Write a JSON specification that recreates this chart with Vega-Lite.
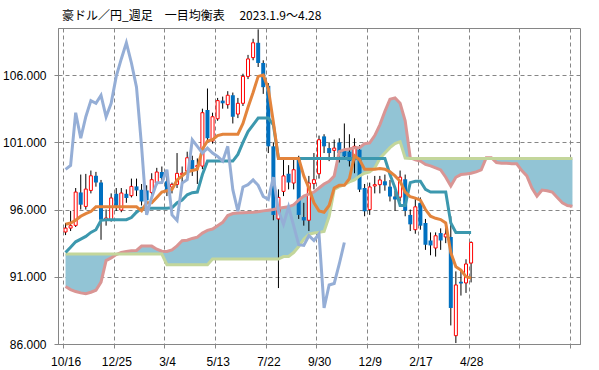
{
  "$schema": "https://vega.github.io/schema/vega-lite/v6.json",
  "width": 522,
  "height": 316,
  "autosize": {"type": "none"},
  "padding": {"left": 58, "top": 28, "right": 19, "bottom": 26},
  "background": "#ffffff",
  "title": {
    "text": "豪ドル／円_週足　一目均衡表　 2023.1.9～4.28",
    "anchor": "start",
    "frame": "group",
    "offset": 5,
    "dx": 4,
    "font": "Noto Sans CJK JP",
    "fontSize": 12,
    "fontWeight": "normal",
    "color": "#000000"
  },
  "config": {
    "view": {"stroke": "#868686", "strokeWidth": 1},
    "axis": {
      "labelFont": "Liberation Sans",
      "labelFontSize": 12,
      "labelColor": "#000000",
      "domainColor": "#868686",
      "tickColor": "#868686",
      "tickSize": 4,
      "gridColor": "#868686",
      "gridDash": [4, 3],
      "gridWidth": 1,
      "title": null
    }
  },
  "datasets": {
    "c": [
      {"i":0,"o":94.33,"h":95.0,"l":94.1,"c":94.62,"tk":94.9,"kj":92.8},
      {"i":1,"o":94.62,"h":95.9,"l":94.4,"c":94.8,"tk":95.0,"kj":93.2},
      {"i":2,"o":94.82,"h":97.6,"l":94.7,"c":97.3,"tk":95.2,"kj":93.6},
      {"i":3,"o":97.27,"h":98.6,"l":96.0,"c":96.36,"tk":95.5,"kj":93.8},
      {"i":4,"o":96.23,"h":98.65,"l":96.0,"c":97.52,"tk":95.7,"kj":94.0},
      {"i":5,"o":97.42,"h":98.9,"l":97.2,"c":98.51,"tk":95.85,"kj":94.3},
      {"i":6,"o":98.51,"h":98.8,"l":97.7,"c":98.01,"tk":96.2,"kj":94.5},
      {"i":7,"o":98.01,"h":98.2,"l":93.75,"c":95.24,"tk":96.2,"kj":95.2},
      {"i":8,"o":95.24,"h":96.0,"l":94.8,"c":95.37,"tk":96.2,"kj":95.24},
      {"i":9,"o":95.24,"h":97.2,"l":95.1,"c":96.86,"tk":96.2,"kj":95.24},
      {"i":10,"o":97.17,"h":97.6,"l":95.9,"c":96.28,"tk":96.2,"kj":95.24},
      {"i":11,"o":95.96,"h":97.6,"l":95.8,"c":97.23,"tk":96.2,"kj":95.24},
      {"i":12,"o":97.17,"h":97.5,"l":96.5,"c":96.86,"tk":96.2,"kj":95.24},
      {"i":13,"o":97.03,"h":98.3,"l":96.9,"c":97.72,"tk":96.2,"kj":95.4},
      {"i":14,"o":97.72,"h":98.3,"l":97.0,"c":97.42,"tk":96.2,"kj":95.8},
      {"i":15,"o":97.47,"h":97.9,"l":96.3,"c":96.6,"tk":95.9,"kj":96.1},
      {"i":16,"o":97.42,"h":97.8,"l":96.3,"c":96.68,"tk":96.5,"kj":96.1},
      {"i":17,"o":97.27,"h":98.7,"l":96.9,"c":98.22,"tk":96.5,"kj":96.1},
      {"i":18,"o":97.97,"h":99.1,"l":97.8,"c":98.79,"tk":96.9,"kj":96.1},
      {"i":19,"o":98.79,"h":99.2,"l":98.0,"c":98.34,"tk":97.3,"kj":96.1},
      {"i":20,"o":98.1,"h":98.5,"l":97.0,"c":97.4,"tk":97.4,"kj":96.1},
      {"i":21,"o":97.67,"h":98.0,"l":97.2,"c":97.87,"tk":97.5,"kj":96.13},
      {"i":22,"o":97.87,"h":100.2,"l":97.6,"c":98.69,"tk":98.2,"kj":96.5},
      {"i":23,"o":98.6,"h":99.2,"l":98.0,"c":98.7,"tk":98.5,"kj":96.7},
      {"i":24,"o":98.86,"h":100.3,"l":98.6,"c":99.85,"tk":98.8,"kj":97.1},
      {"i":25,"o":99.68,"h":100.0,"l":98.5,"c":98.99,"tk":98.9,"kj":97.25},
      {"i":26,"o":99.16,"h":99.8,"l":97.9,"c":99.28,"tk":99.0,"kj":97.3},
      {"i":27,"o":99.23,"h":103.5,"l":99.0,"c":103.2,"tk":100.5,"kj":98.6},
      {"i":28,"o":103.4,"h":105.0,"l":101.0,"c":101.3,"tk":101.1,"kj":99.6},
      {"i":29,"o":101.1,"h":103.2,"l":100.9,"c":102.9,"tk":101.2,"kj":99.6},
      {"i":30,"o":102.75,"h":104.3,"l":102.6,"c":104.1,"tk":101.5,"kj":99.6},
      {"i":31,"o":104.1,"h":104.4,"l":103.5,"c":103.9,"tk":101.6,"kj":99.6},
      {"i":32,"o":103.8,"h":104.8,"l":103.5,"c":104.5,"tk":101.6,"kj":99.6},
      {"i":33,"o":104.5,"h":104.7,"l":102.4,"c":102.9,"tk":101.6,"kj":99.6},
      {"i":34,"o":103.1,"h":104.3,"l":102.8,"c":103.9,"tk":101.6,"kj":100.1},
      {"i":35,"o":103.9,"h":106.1,"l":103.7,"c":105.9,"tk":102.4,"kj":101.0},
      {"i":36,"o":105.9,"h":107.5,"l":105.7,"c":107.2,"tk":103.6,"kj":101.8},
      {"i":37,"o":107.3,"h":108.7,"l":107.1,"c":108.4,"tk":104.7,"kj":102.3},
      {"i":38,"o":108.4,"h":109.4,"l":106.6,"c":106.9,"tk":105.9,"kj":102.8},
      {"i":39,"o":106.9,"h":107.1,"l":104.6,"c":105.1,"tk":106.0,"kj":102.8},
      {"i":40,"o":105.2,"h":105.4,"l":100.2,"c":100.7,"tk":105.0,"kj":102.8},
      {"i":41,"o":100.7,"h":101.0,"l":95.2,"c":95.6,"tk":102.5,"kj":102.3},
      {"i":42,"o":95.3,"h":97.5,"l":90.16,"c":96.9,"tk":99.8,"kj":99.8},
      {"i":43,"o":97.35,"h":99.8,"l":97.0,"c":98.5,"tk":99.8,"kj":99.8},
      {"i":44,"o":98.66,"h":99.3,"l":97.5,"c":98.01,"tk":99.8,"kj":99.8},
      {"i":45,"o":97.97,"h":99.7,"l":97.5,"c":98.96,"tk":99.8,"kj":99.8},
      {"i":46,"o":99.7,"h":100.0,"l":95.3,"c":95.6,"tk":99.8,"kj":99.8},
      {"i":47,"o":95.44,"h":96.5,"l":94.8,"c":95.19,"tk":98.5,"kj":99.8},
      {"i":48,"o":95.2,"h":98.5,"l":94.4,"c":97.97,"tk":97.6,"kj":99.8},
      {"i":49,"o":97.93,"h":100.2,"l":97.5,"c":98.22,"tk":96.5,"kj":99.8},
      {"i":50,"o":98.66,"h":101.5,"l":98.3,"c":101.19,"tk":95.9,"kj":99.8},
      {"i":51,"o":101.44,"h":101.6,"l":100.2,"c":100.7,"tk":95.8,"kj":99.8},
      {"i":52,"o":100.57,"h":101.0,"l":99.6,"c":100.2,"tk":96.3,"kj":99.8},
      {"i":53,"o":100.4,"h":101.2,"l":99.7,"c":100.57,"tk":97.6,"kj":99.8},
      {"i":54,"o":100.99,"h":101.3,"l":99.5,"c":100.2,"tk":97.8,"kj":99.8},
      {"i":55,"o":100.45,"h":102.4,"l":99.9,"c":99.95,"tk":97.8,"kj":99.8},
      {"i":56,"o":100.3,"h":101.6,"l":99.2,"c":99.6,"tk":98.3,"kj":99.8},
      {"i":57,"o":99.7,"h":101.3,"l":98.7,"c":100.7,"tk":100.0,"kj":99.8},
      {"i":58,"o":100.45,"h":100.8,"l":97.3,"c":97.48,"tk":99.7,"kj":99.8},
      {"i":59,"o":97.6,"h":97.9,"l":95.5,"c":95.87,"tk":99.0,"kj":99.8},
      {"i":60,"o":96.0,"h":98.0,"l":95.6,"c":97.68,"tk":99.0,"kj":99.8},
      {"i":61,"o":97.75,"h":98.5,"l":97.2,"c":97.85,"tk":99.0,"kj":99.8},
      {"i":62,"o":97.85,"h":98.5,"l":97.2,"c":98.2,"tk":99.05,"kj":99.8},
      {"i":63,"o":98.1,"h":98.6,"l":97.4,"c":97.8,"tk":99.0,"kj":99.8},
      {"i":64,"o":97.7,"h":98.2,"l":96.6,"c":96.97,"tk":98.8,"kj":98.6},
      {"i":65,"o":96.97,"h":97.4,"l":95.9,"c":96.75,"tk":98.5,"kj":97.6},
      {"i":66,"o":96.92,"h":98.9,"l":96.6,"c":98.41,"tk":98.1,"kj":96.3},
      {"i":67,"o":98.25,"h":98.6,"l":95.5,"c":95.9,"tk":97.3,"kj":96.3},
      {"i":68,"o":95.6,"h":96.0,"l":94.4,"c":94.9,"tk":96.95,"kj":98.0},
      {"i":69,"o":94.5,"h":96.8,"l":94.2,"c":96.2,"tk":96.85,"kj":98.1},
      {"i":70,"o":96.5,"h":96.9,"l":94.5,"c":94.8,"tk":96.7,"kj":98.1},
      {"i":71,"o":95.0,"h":95.3,"l":93.0,"c":93.38,"tk":96.0,"kj":97.5},
      {"i":72,"o":93.7,"h":94.3,"l":92.6,"c":93.33,"tk":95.5,"kj":97.3},
      {"i":73,"o":93.14,"h":94.3,"l":92.5,"c":94.05,"tk":95.35,"kj":97.3},
      {"i":74,"o":94.25,"h":94.6,"l":93.0,"c":93.7,"tk":95.25,"kj":97.3},
      {"i":75,"o":93.96,"h":94.8,"l":93.5,"c":94.18,"tk":95.0,"kj":97.3},
      {"i":76,"o":93.96,"h":95.5,"l":87.38,"c":88.68,"tk":92.8,"kj":95.0},
      {"i":77,"o":86.62,"h":91.4,"l":86.07,"c":90.39,"tk":91.75,"kj":94.3},
      {"i":78,"o":90.63,"h":91.5,"l":89.6,"c":90.5,"tk":91.5,"kj":94.3},
      {"i":79,"o":90.54,"h":92.3,"l":89.8,"c":91.95,"tk":91.0,"kj":94.3},
      {"i":80,"o":92.02,"h":93.63,"l":90.58,"c":93.55,"tk":90.9,"kj":94.3}
    ],
    "ch": [
      {"i":0,"v":98.99},{"i":1,"v":99.28},{"i":2,"v":103.2},{"i":3,"v":101.3},{"i":4,"v":102.9},
      {"i":5,"v":104.1},{"i":6,"v":103.9},{"i":7,"v":104.5},{"i":8,"v":102.9},{"i":9,"v":103.9},
      {"i":10,"v":105.9},{"i":11,"v":107.2},{"i":12,"v":108.4},{"i":13,"v":106.9},{"i":14,"v":105.1},
      {"i":15,"v":100.7},{"i":16,"v":95.6},{"i":17,"v":96.9},{"i":18,"v":98.0},{"i":19,"v":98.01},
      {"i":20,"v":98.96},{"i":21,"v":95.6},{"i":22,"v":95.19},{"i":23,"v":97.97},{"i":24,"v":98.22},
      {"i":25,"v":101.19},{"i":26,"v":100.7},{"i":27,"v":100.2},{"i":28,"v":100.57},{"i":29,"v":100.2},
      {"i":30,"v":99.95},{"i":31,"v":99.6},{"i":32,"v":100.7},{"i":33,"v":97.48},{"i":34,"v":95.87},
      {"i":35,"v":97.68},{"i":36,"v":97.85},{"i":37,"v":98.2},{"i":38,"v":97.8},{"i":39,"v":96.97},
      {"i":40,"v":96.75},{"i":41,"v":98.41},{"i":42,"v":95.9},{"i":43,"v":94.9},{"i":44,"v":96.2},
      {"i":45,"v":94.8},{"i":46,"v":93.38},{"i":47,"v":93.33},{"i":48,"v":94.05},{"i":49,"v":93.7},
      {"i":50,"v":94.18},{"i":51,"v":88.68},{"i":52,"v":90.39},{"i":53,"v":90.5},{"i":54,"v":91.95},
      {"i":55,"v":93.55}
    ],
    "k": [
      {"i":0,"sa":90.28,"sb":92.69},{"i":1,"sa":90.05,"sb":92.69},{"i":2,"sa":89.9,"sb":92.69},
      {"i":3,"sa":89.8,"sb":92.69},{"i":4,"sa":89.74,"sb":92.69},{"i":5,"sa":89.85,"sb":92.69},
      {"i":6,"sa":90.0,"sb":92.69},{"i":7,"sa":90.6,"sb":92.69},{"i":8,"sa":92.2,"sb":92.69},
      {"i":9,"sa":92.4,"sb":92.69},{"i":10,"sa":92.65,"sb":92.69},{"i":11,"sa":92.8,"sb":92.69},
      {"i":12,"sa":92.88,"sb":92.69},{"i":13,"sa":92.94,"sb":92.69},{"i":14,"sa":92.96,"sb":92.69},
      {"i":15,"sa":93.28,"sb":92.69},{"i":16,"sa":93.28,"sb":92.69},{"i":17,"sa":93.28,"sb":92.69},
      {"i":18,"sa":93.05,"sb":92.69},{"i":19,"sa":92.9,"sb":92.69},{"i":20,"sa":92.88,"sb":91.9},
      {"i":21,"sa":93.0,"sb":91.9},{"i":22,"sa":93.3,"sb":91.9},{"i":23,"sa":93.68,"sb":91.9},
      {"i":24,"sa":93.72,"sb":91.9},{"i":25,"sa":93.85,"sb":91.9},{"i":26,"sa":93.95,"sb":91.9},
      {"i":27,"sa":94.25,"sb":91.9},{"i":28,"sa":94.45,"sb":91.9},{"i":29,"sa":94.55,"sb":92.32},
      {"i":30,"sa":94.8,"sb":92.32},{"i":31,"sa":95.05,"sb":92.32},{"i":32,"sa":95.55,"sb":92.32},
      {"i":33,"sa":95.7,"sb":92.32},{"i":34,"sa":95.74,"sb":92.32},{"i":35,"sa":95.76,"sb":92.32},
      {"i":36,"sa":95.78,"sb":92.32},{"i":37,"sa":95.8,"sb":92.32},{"i":38,"sa":95.84,"sb":92.32},
      {"i":39,"sa":95.9,"sb":92.32},{"i":40,"sa":95.95,"sb":92.32},{"i":41,"sa":96.0,"sb":92.32},
      {"i":42,"sa":96.1,"sb":92.32},{"i":43,"sa":96.15,"sb":92.5},{"i":44,"sa":96.2,"sb":92.51},
      {"i":45,"sa":96.35,"sb":92.8},{"i":46,"sa":96.7,"sb":93.25},{"i":47,"sa":97.0,"sb":93.8},
      {"i":48,"sa":97.15,"sb":94.15},{"i":49,"sa":97.3,"sb":94.25},{"i":50,"sa":97.6,"sb":94.3},
      {"i":51,"sa":97.9,"sb":94.37},{"i":52,"sa":98.1,"sb":95.5},{"i":53,"sa":98.5,"sb":97.5},
      {"i":54,"sa":100.3,"sb":97.7},{"i":55,"sa":100.45,"sb":97.85},{"i":56,"sa":100.5,"sb":98.05},
      {"i":57,"sa":100.6,"sb":98.2},{"i":58,"sa":100.6,"sb":98.5},{"i":59,"sa":100.9,"sb":98.7},
      {"i":60,"sa":100.95,"sb":98.8},{"i":61,"sa":101.5,"sb":99.1},{"i":62,"sa":102.3,"sb":99.8},
      {"i":63,"sa":103.3,"sb":100.2},{"i":64,"sa":104.2,"sb":100.6},{"i":65,"sa":104.3,"sb":100.9},
      {"i":66,"sa":103.9,"sb":101.05},{"i":67,"sa":102.6,"sb":99.83},{"i":68,"sa":99.85,"sb":99.8},
      {"i":69,"sa":99.7,"sb":99.8},{"i":70,"sa":99.6,"sb":99.8},{"i":71,"sa":99.35,"sb":99.8},
      {"i":72,"sa":99.25,"sb":99.8},{"i":73,"sa":99.1,"sb":99.8},{"i":74,"sa":98.95,"sb":99.8},
      {"i":75,"sa":98.4,"sb":99.8},{"i":76,"sa":97.75,"sb":99.8},{"i":77,"sa":98.4,"sb":99.8},
      {"i":78,"sa":98.6,"sb":99.8},{"i":79,"sa":98.65,"sb":99.8},{"i":80,"sa":98.7,"sb":99.8},
      {"i":81,"sa":98.8,"sb":99.8},{"i":82,"sa":98.95,"sb":99.8},{"i":83,"sa":99.85,"sb":99.8},
      {"i":84,"sa":99.85,"sb":99.8},{"i":85,"sa":99.5,"sb":99.8},{"i":86,"sa":99.45,"sb":99.8},
      {"i":87,"sa":99.45,"sb":99.8},{"i":88,"sa":99.4,"sb":99.8},{"i":89,"sa":99.4,"sb":99.8},
      {"i":90,"sa":98.9,"sb":99.8},{"i":91,"sa":98.5,"sb":99.8},{"i":92,"sa":97.6,"sb":99.8},
      {"i":93,"sa":97.0,"sb":99.8},{"i":94,"sa":97.45,"sb":99.8},{"i":95,"sa":97.4,"sb":99.8},
      {"i":96,"sa":97.3,"sb":99.8},{"i":97,"sa":96.9,"sb":99.8},{"i":98,"sa":96.5,"sb":99.8},
      {"i":99,"sa":96.3,"sb":99.8},{"i":100,"sa":96.25,"sb":99.8}
    ]
  },
  "encoding": {
    "x": {
      "field": "i",
      "type": "quantitative",
      "scale": {"domain": [-0.5, 100.5], "nice": false, "zero": false},
      "axis": {
        "values": [-0.5, 9.5, 19.5, 29.5, 39.5, 49.5, 59.5, 69.5, 79.5, 89.5, 99.5],
        "labelExpr": "['10/16','12/25','3/4','5/13','7/22','9/30','12/9','2/17','4/28','',''][round((datum.value + 0.5) / 10)]",
        "labelOffset": 2.6,
        "labelPadding": 8,
        "labelFlush": false,
        "labelOverlap": false,
        "labelBound": false,
        "grid": true
      }
    }
  },
  "layer": [
    {
      "data": {"name": "k"},
      "mark": {"type": "area", "color": "#92C4D5", "opacity": 1},
      "encoding": {
        "y": {
          "field": "sa",
          "type": "quantitative",
          "scale": {"domain": [86, 109.5], "nice": false, "zero": false},
          "axis": {
            "values": [86, 91, 96, 101, 106],
            "format": ".3f",
            "grid": true,
            "labelPadding": 8
          }
        },
        "y2": {"field": "sb"}
      }
    },
    {
      "data": {"name": "c"},
      "mark": {"type": "rule", "color": "#000000", "strokeWidth": 1},
      "encoding": {"y": {"field": "l", "type": "quantitative"}, "y2": {"field": "h"}}
    },
    {
      "data": {"name": "c"},
      "transform": [{"filter": "datum.c < datum.o"}],
      "mark": {"type": "bar", "color": "#0070C0", "size": 4},
      "encoding": {"y": {"field": "o", "type": "quantitative"}, "y2": {"field": "c"}}
    },
    {
      "data": {"name": "c"},
      "transform": [{"filter": "datum.c >= datum.o"}],
      "mark": {"type": "bar", "fill": "#ffffff", "stroke": "#FF0000", "strokeWidth": 1, "size": 3},
      "encoding": {"y": {"field": "o", "type": "quantitative"}, "y2": {"field": "c"}}
    },
    {
      "data": {"name": "k"},
      "mark": {"type": "line", "color": "#D99594", "strokeWidth": 3},
      "encoding": {"y": {"field": "sa", "type": "quantitative"}}
    },
    {
      "data": {"name": "k"},
      "mark": {"type": "line", "color": "#C3D69B", "strokeWidth": 3},
      "encoding": {"y": {"field": "sb", "type": "quantitative"}}
    },
    {
      "data": {"name": "c"},
      "mark": {"type": "line", "color": "#3C98AE", "strokeWidth": 3},
      "encoding": {"y": {"field": "kj", "type": "quantitative"}}
    },
    {
      "data": {"name": "c"},
      "mark": {"type": "line", "color": "#E3843C", "strokeWidth": 3},
      "encoding": {"y": {"field": "tk", "type": "quantitative"}}
    },
    {
      "data": {"name": "ch"},
      "mark": {"type": "line", "color": "#95AED6", "strokeWidth": 3},
      "encoding": {"y": {"field": "v", "type": "quantitative"}}
    }
  ]
}
